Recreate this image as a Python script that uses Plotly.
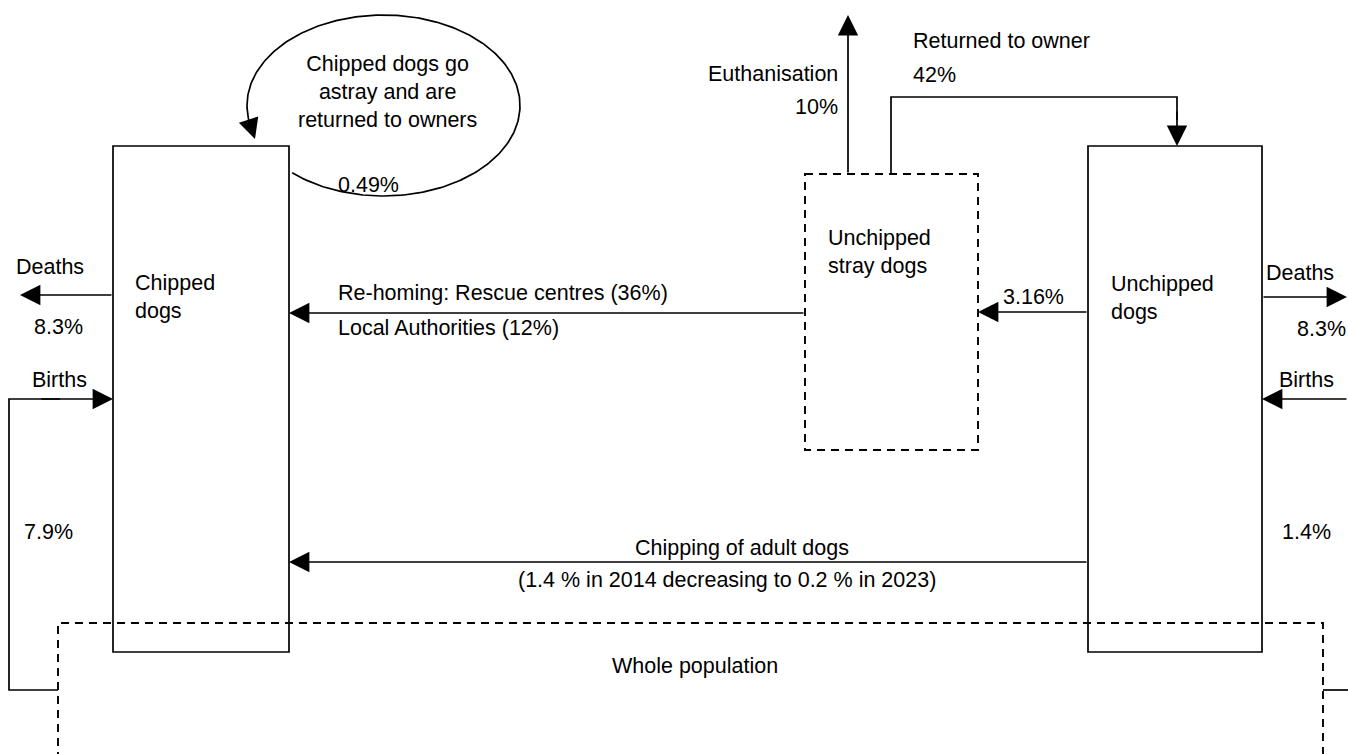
import numpy as np
import plotly.graph_objects as go

# ---- diagram content (labels / rates) ----
node_labels = ["Chipped<br>dogs", "Unchipped<br>stray dogs", "Unchipped<br>dogs", "Whole population"]
death_label = "Deaths"
birth_label = "Births"
death_rate = ["8.3%", "8.3%"]          # chipped, unchipped
birth_rate = ["7.9%", "1.4%"]          # chipped, unchipped
stray_rate = "3.16%"
euthanisation = ["Euthanisation", "10%"]
returned = ["Returned to owner", "42%"]
rehoming = ["Re-homing: Rescue centres (36%)", "Local Authorities (12%)"]
astray_text = "Chipped dogs go<br>astray and are<br>returned to owners"
astray_rate = "0.49%"
adult_chip = ["Chipping of adult dogs", "(1.4 % in 2014 decreasing to 0.2 % in 2023)"]

W, H = 1348, 754
FONT = dict(family="Liberation Sans, Arial, sans-serif", size=21.5, color="black")
LW = 1.7

fig = go.Figure()
shapes = []
annotations = []

def line_path(pts, dash=None, width=LW):
    d = "M" + " L".join(f"{x},{y}" for x, y in pts)
    ln = dict(color="black", width=width)
    if dash:
        ln["dash"] = dash
    shapes.append(dict(type="path", path=d, xref="x", yref="y", line=ln, layer="above"))

def rect(x0, y0, x1, y1, dash=None, width=LW):
    ln = dict(color="black", width=width)
    if dash:
        ln["dash"] = dash
    shapes.append(dict(type="rect", x0=x0, y0=y0, x1=x1, y1=y1, xref="x", yref="y",
                       line=ln, fillcolor="rgba(0,0,0,0)", layer="above"))

def arrow(x0, y0, x1, y1):
    annotations.append(dict(x=x1, y=y1, ax=x0, ay=y0, xref="x", yref="y", axref="x", ayref="y",
                            text="", showarrow=True, arrowhead=2, arrowsize=2.4, arrowwidth=LW,
                            arrowcolor="black", standoff=0, startstandoff=0))

def text(x, y, s, xanchor="left", align="left"):
    annotations.append(dict(x=x, y=y, xref="x", yref="y", text=s, showarrow=False,
                            xanchor=xanchor, yanchor="middle", align=align, font=FONT))

DASH = "8px,6px"
DW = 1.9

# boxes
rect(113, 146, 289, 652)
rect(1088, 146, 1262, 652)
rect(805, 174, 978, 450, dash=DASH, width=DW)
line_path([(58, 760), (58, 623), (1323, 623), (1323, 760)], dash=DASH, width=DW)

# deaths
arrow(113, 295, 20, 295)
arrow(1262, 297, 1347, 297)
# births
line_path([(58, 690), (9, 690), (9, 399), (60, 399)])
arrow(40, 399, 113, 399)
line_path([(1323, 690), (1348, 690)])
arrow(1348, 399, 1262, 399)

# re-homing / stray / adult chipping
arrow(805, 313, 289, 313)
arrow(1088, 312, 978, 312)
arrow(1088, 562, 289, 562)

# euthanisation / returned to owner
arrow(848, 174, 848, 15)
line_path([(891, 174), (891, 97), (1177, 97), (1177, 120)])
arrow(1177, 110, 1177, 146)

# ellipse arc (open at lower left, ends with an arrow onto the chipped box)
cx, cy, a, b = 383.5, 105.5, 136.5, 90.5
t = np.radians(np.linspace(132, -190, 300))
fig.add_trace(go.Scatter(x=cx + a * np.cos(t), y=cy + b * np.sin(t), mode="lines",
                         line=dict(color="black", width=LW), hoverinfo="skip", showlegend=False))
te0 = np.radians(-190)
arrow(cx + a * np.cos(te0), cy + b * np.sin(te0), 255, 139)

# texts
text(387, 92, astray_text, xanchor="center", align="center")
text(336, 185, astray_rate)
text(14, 267, death_label)
text(32, 327, death_rate[0])
text(30, 380, birth_label)
text(22, 532, birth_rate[0])
text(133, 297, node_labels[0])
text(336, 293, rehoming[0])
text(336, 328, rehoming[1])
text(840, 74, euthanisation[0], xanchor="right", align="right")
text(840, 107, euthanisation[1], xanchor="right", align="right")
text(911, 41, returned[0])
text(911, 75, returned[1])
text(826, 252, node_labels[1])
text(1001, 297, stray_rate)
text(1109, 298, node_labels[2])
text(1264, 273, death_label)
text(1295, 329, death_rate[1])
text(1277, 380, birth_label)
text(1280, 532, birth_rate[1])
text(742, 548, adult_chip[0], xanchor="center", align="center")
text(727, 580, adult_chip[1], xanchor="center", align="center")
text(695, 666, node_labels[3], xanchor="center", align="center")

fig.update_layout(
    width=W, height=H, margin=dict(l=0, r=0, t=0, b=0),
    paper_bgcolor="white", plot_bgcolor="white",
    xaxis=dict(range=[0, W], visible=False, fixedrange=True),
    yaxis=dict(range=[H, 0], visible=False, fixedrange=True),
    shapes=shapes, annotations=annotations, showlegend=False,
)
fig.write_html("out.html", config={"displayModeBar": False},
               post_script="document.body.style.margin='0px';document.body.style.overflow='hidden';")
